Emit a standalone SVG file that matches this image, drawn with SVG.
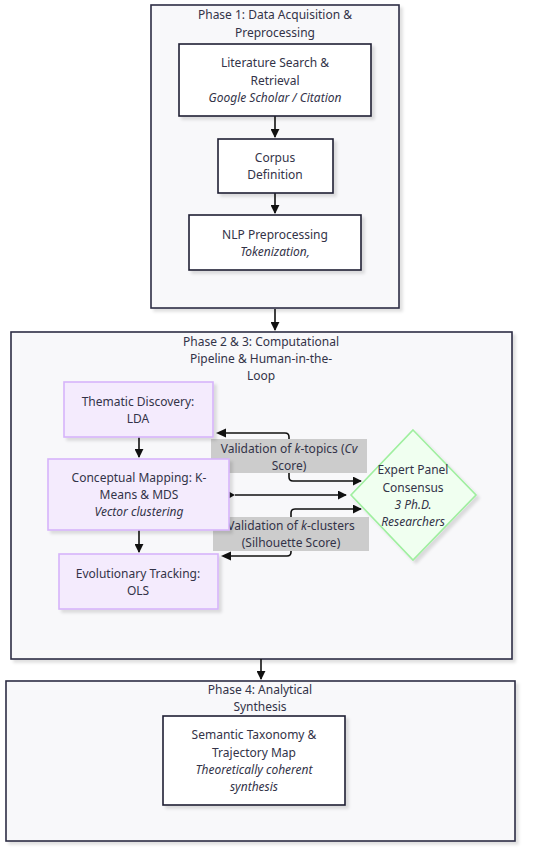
<svg xmlns="http://www.w3.org/2000/svg" width="550" height="848" viewBox="0 0 550 848">
<defs>
<style>
text{font-family:"Noto Sans","Open Sans","Liberation Sans",sans-serif;font-size:12px;fill:#333348;text-anchor:middle;dominant-baseline:central}
.it{font-style:italic}
.phase{fill:#f8f8fa;stroke:#2d2d44;stroke-width:1.6}
.node{fill:#ffffff;stroke:#1f1f33;stroke-width:1.6}
.pnode{fill:#f4ebfd;stroke:#d6b4fa;stroke-width:1.6}
.dia{fill:#f0fff0;stroke:#9fef9f;stroke-width:1.6}
.lbl{fill:#cccccc}
.edge{fill:none;stroke:#111;stroke-width:1.6}
</style>
<filter id="sh" x="-10%" y="-10%" width="130%" height="130%">
<feDropShadow dx="3" dy="3" stdDeviation="1.5" flood-color="#000" flood-opacity="0.12"/>
</filter>
<marker id="ah" viewBox="0 0 10 10" refX="9" refY="5" markerWidth="9" markerHeight="9" orient="auto" markerUnits="userSpaceOnUse">
<path d="M0,0L10,5L0,10z" fill="#111"/>
</marker>
</defs>

<g id="phase1">
<rect class="phase" x="151" y="5" width="248" height="303" filter="url(#sh)"/>
<text x="275" y="14">Phase 1: Data Acquisition &amp;</text>
<text x="275" y="32">Preprocessing</text>
</g>
<g id="phase2">
<rect class="phase" x="11" y="332" width="501" height="327" filter="url(#sh)"/>
<text x="261" y="341">Phase 2 &amp; 3: Computational</text>
<text x="261" y="358">Pipeline &amp; Human-in-the-</text>
<text x="261" y="375">Loop</text>
</g>
<g id="phase4">
<rect class="phase" x="6" y="681" width="509" height="160" filter="url(#sh)"/>
<text x="260" y="689">Phase 4: Analytical</text>
<text x="260" y="706">Synthesis</text>
</g>

<g id="connectors">
<path class="edge" d="M275,116V137" marker-end="url(#ah)"/>
<path class="edge" d="M275,193V213" marker-end="url(#ah)"/>
<path class="edge" d="M275,309V330" marker-end="url(#ah)"/>
<path class="edge" d="M261,659V679" marker-end="url(#ah)"/>
<path class="edge" d="M139,437V457" marker-end="url(#ah)"/>
<path class="edge" d="M139,530V552" marker-end="url(#ah)"/>
<path class="edge" d="M225,433H285Q289,433 289,437V477Q289,481 293,481H361" marker-end="url(#ah)"/>
<path d="M216,433L226,428.5L226,437.5z" fill="#111"/>
<path class="edge" d="M235,495H346" marker-end="url(#ah)"/>
<path d="M226,490L235,495L226,500z" fill="#111"/>
<path class="edge" d="M229,556H287Q291,556 291,552V513Q291,509 295,509H361" marker-end="url(#ah)"/>
<path d="M221,556L231,551.5L231,560.5z" fill="#111"/>
<g id="label1">
<rect class="lbl" x="211" y="439" width="156" height="34"/>
<text x="289" y="448">Validation of <tspan class="it">k</tspan>-topics (<tspan class="it">Cv</tspan></text>
<text x="289" y="465">Score)</text>
</g>
<g id="label2">
<rect class="lbl" x="213" y="517" width="156" height="34"/>
<text x="291" y="525">Validation of <tspan class="it">k</tspan>-clusters</text>
<text x="291" y="542">(Silhouette Score)</text>
</g>
</g>

<g id="literature">
<rect class="node" x="179" y="44" width="192" height="72" filter="url(#sh)"/>
<text x="275" y="62">Literature Search &amp;</text>
<text x="275" y="80">Retrieval</text>
<text x="275" y="97" class="it">Google Scholar / Citation</text>
</g>
<g id="corpus">
<rect class="node" x="218" y="139" width="115" height="54" filter="url(#sh)"/>
<text x="275" y="157">Corpus</text>
<text x="275" y="174">Definition</text>
</g>
<g id="nlp">
<rect class="node" x="189" y="215" width="172" height="55" filter="url(#sh)"/>
<text x="275" y="234">NLP Preprocessing</text>
<text x="275" y="251" class="it">Tokenization,</text>
</g>
<g id="thematic">
<rect class="pnode" x="64" y="382" width="149" height="55" filter="url(#sh)"/>
<text x="138" y="401">Thematic Discovery:</text>
<text x="138" y="418">LDA</text>
</g>
<g id="conceptual">
<rect class="pnode" x="48" y="459" width="181" height="71" filter="url(#sh)"/>
<text x="139" y="477">Conceptual Mapping: K-</text>
<text x="139" y="494">Means &amp; MDS</text>
<text x="139" y="511" class="it">Vector clustering</text>
</g>
<g id="evolutionary">
<rect class="pnode" x="59" y="554" width="159" height="55" filter="url(#sh)"/>
<text x="138" y="573">Evolutionary Tracking:</text>
<text x="138" y="590">OLS</text>
</g>
<g id="expert">
<path class="dia" d="M413,430L476,495L413,560L351,495z" filter="url(#sh)"/>
<text x="413" y="469">Expert Panel</text>
<text x="413" y="487">Consensus</text>
<text x="413" y="504" class="it">3 Ph.D.</text>
<text x="413" y="521" class="it">Researchers</text>
</g>
<g id="semantic">
<rect class="node" x="163" y="716" width="182" height="89" filter="url(#sh)"/>
<text x="254" y="734">Semantic Taxonomy &amp;</text>
<text x="254" y="752">Trajectory Map</text>
<text x="254" y="769" class="it">Theoretically coherent</text>
<text x="254" y="786" class="it">synthesis</text>
</g>
</svg>
